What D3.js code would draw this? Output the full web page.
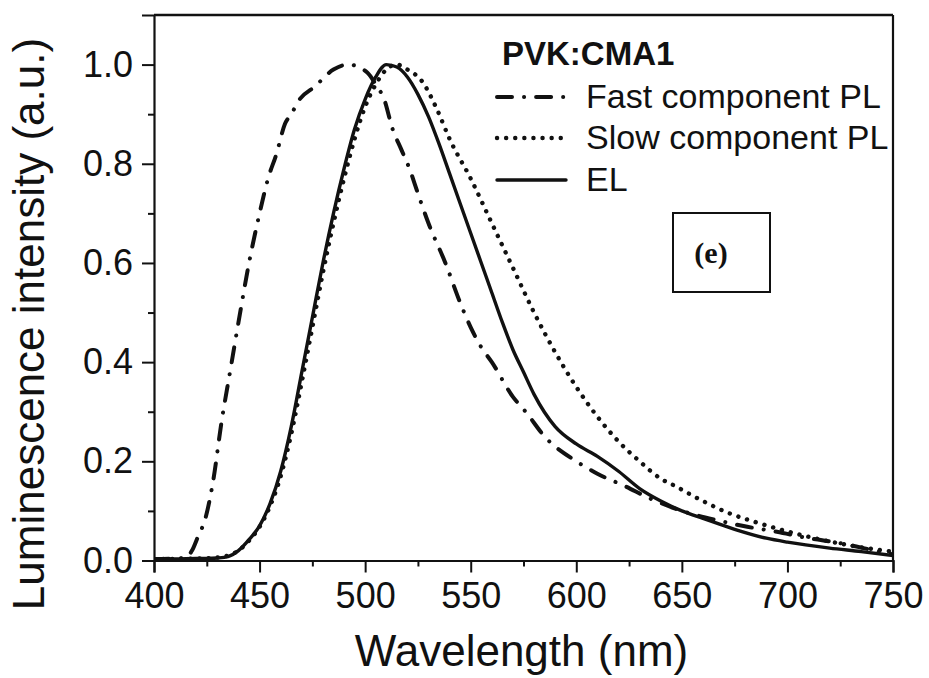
<!DOCTYPE html>
<html>
<head>
<meta charset="utf-8">
<script src="https://cdn.jsdelivr.net/npm/d3@7"></script>
<style>
html,body{margin:0;padding:0;background:#fff;}
svg{display:block;}
text{font-family:"Liberation Sans",Arial,sans-serif;fill:#111;}
</style>
</head>
<body>
<svg id="chart" width="929" height="678"></svg>
<script>
// ---- data ----
const xTicks = [400, 450, 500, 550, 600, 650, 700, 750];
const xMinorTicks = [425, 475, 525, 575, 625, 675, 725];
const yTicks = [0.0, 0.2, 0.4, 0.6, 0.8, 1.0];
const yMinorTicks = [0.1, 0.3, 0.5, 0.7, 0.9];

const elWavelength = [400,410,420,425,430,435,440,445,450,455,460,465,470,475,480,485,490,495,500,505,510,515,520,525,530,535,540,545,550,555,560,565,570,575,580,590,600,610,620,630,640,650,660,675,690,700,720,735,750];
const elIntensity  = [0.003,0.003,0.004,0.004,0.005,0.008,0.02,0.042,0.07,0.115,0.18,0.27,0.38,0.49,0.6,0.7,0.79,0.87,0.93,0.975,1.0,0.995,0.975,0.94,0.895,0.84,0.78,0.72,0.66,0.6,0.54,0.48,0.425,0.38,0.335,0.27,0.235,0.21,0.18,0.145,0.12,0.1,0.085,0.063,0.045,0.037,0.025,0.018,0.01];

const slowWavelength = [400,420,430,435,440,445,450,455,460,465,470,475,480,485,490,495,500,505,510,515,520,527,534,540,550,560,570,580,590,600,610,620,630,640,646,659,672,686,706,724,744,750];
const slowIntensity  = [0.003,0.004,0.006,0.01,0.02,0.04,0.068,0.11,0.17,0.255,0.36,0.47,0.58,0.68,0.77,0.85,0.915,0.96,0.99,1.0,0.99,0.966,0.91,0.85,0.77,0.68,0.59,0.5,0.42,0.35,0.29,0.24,0.2,0.165,0.152,0.122,0.096,0.076,0.052,0.035,0.021,0.018];

const fastWavelength = [400,410,415,418,421,424,428,432,436,440,445,450,454,458,462,465,469,476,485,492,501,505,509,513,517,521,525,530,538,545,550,555,560,570,576,585,600,610,623,635,650,668,681,695,710,725,736,750];
const fastIntensity  = [0.003,0.004,0.006,0.02,0.05,0.08,0.16,0.28,0.38,0.48,0.6,0.7,0.77,0.82,0.88,0.9,0.93,0.955,0.99,1.0,0.984,0.96,0.93,0.87,0.83,0.79,0.74,0.68,0.6,0.52,0.47,0.43,0.4,0.33,0.3,0.25,0.2,0.175,0.15,0.125,0.1,0.08,0.068,0.058,0.045,0.035,0.025,0.012];

const legendTitle = "PVK:CMA1";
const seriesNames = ["Fast component PL", "Slow component PL", "EL"];
const xLabel = "Wavelength (nm)";
const yLabel = "Luminescence intensity (a.u.)";
const panelLabel = "(e)";

// ---- layout ----
const svg = d3.select("#chart");
const L = 154, R = 893, T = 15, B = 560.5;
const x = d3.scaleLinear().domain([400, 750]).range([L, R]);
const y = d3.scaleLinear().domain([0, 1.1]).range([B, T]);

svg.append("defs").append("clipPath").attr("id","plotclip")
  .append("rect").attr("x",L).attr("y",T).attr("width",R-L).attr("height",B-T);

// ---- curves ----
function toPts(xs, ys){ return xs.map((v,i)=>[v, ys[i]]); }
const line = d3.line().x(d=>x(d[0])).y(d=>y(d[1])).curve(d3.curveMonotoneX);

const g = svg.append("g").attr("clip-path","url(#plotclip)");
const styles = [
  {dash:"15 12 0.1 12", w:4, data:toPts(fastWavelength, fastIntensity)},
  {dash:"0.1 9", w:4.4, data:toPts(slowWavelength, slowIntensity)},
  {dash:null, w:3.4, data:toPts(elWavelength, elIntensity)}
];
styles.forEach(s=>{
  g.append("path").attr("d", line(s.data))
   .attr("fill","none").attr("stroke","#111")
   .attr("stroke-width", s.w)
   .attr("stroke-linecap","round")
   .attr("stroke-dasharray", s.dash);
});

// ---- axes ----
svg.append("g").attr("transform",`translate(0,${B})`)
  .call(d3.axisBottom(x).tickValues(xTicks).tickSize(12).tickPadding(10).tickFormat(d3.format("d")));
svg.append("g").attr("transform",`translate(0,${B})`)
  .call(d3.axisBottom(x).tickValues(xMinorTicks).tickSize(6).tickFormat(""))
  .select(".domain").remove();
svg.append("g").attr("transform",`translate(${L},0)`)
  .call(d3.axisLeft(y).tickValues(yTicks).tickSize(12).tickPadding(9).tickFormat(d3.format(".1f")));
svg.append("g").attr("transform",`translate(${L},0)`)
  .call(d3.axisLeft(y).tickValues(yMinorTicks).tickSize(6).tickFormat(""))
  .select(".domain").remove();

svg.selectAll(".domain").attr("stroke","#111").attr("stroke-width",2.2);
svg.selectAll(".tick line").attr("stroke","#111").attr("stroke-width",2);
svg.selectAll(".tick text").style("font-size","36px").style("font-family","'Liberation Sans',Arial,sans-serif").attr("fill","#111");

// frame top/right
svg.append("line").attr("x1",L).attr("x2",R).attr("y1",T).attr("y2",T).attr("stroke","#111").attr("stroke-width",2.5);
svg.append("line").attr("x1",R).attr("x2",R).attr("y1",T).attr("y2",B).attr("stroke","#111").attr("stroke-width",2.2);

// axis titles
svg.append("text").attr("x",(L+R)/2 - 2).attr("y",666).attr("text-anchor","middle")
  .style("font-size","44px").text(xLabel);
svg.append("text").attr("transform","translate(44,324) rotate(-90)").attr("text-anchor","middle")
  .style("font-size","44px").text(yLabel);

// ---- legend ----
svg.append("text").attr("x",502).attr("y",65).style("font-size","33px").style("font-weight","bold").text(legendTitle);
const rowY = [97, 138, 180];
seriesNames.forEach((name,i)=>{
  const s = styles[i];
  svg.append("line").attr("x1",497).attr("x2",566).attr("y1",rowY[i]).attr("y2",rowY[i])
    .attr("stroke","#111").attr("stroke-width",s.w).attr("stroke-linecap","round")
    .attr("stroke-dasharray",s.dash);
  svg.append("text").attr("x",586).attr("y",rowY[i]+11).style("font-size","34px").text(name);
});

// ---- panel label box ----
svg.append("rect").attr("x",673).attr("y",213).attr("width",97).attr("height",79)
  .attr("fill","none").attr("stroke","#111").attr("stroke-width",2);
svg.append("text").attr("x",711).attr("y",263).attr("text-anchor","middle")
  .style("font-family","'Liberation Serif','Times New Roman',serif").style("font-weight","bold")
  .style("font-size","30px").text(panelLabel);
</script>
</body>
</html>
